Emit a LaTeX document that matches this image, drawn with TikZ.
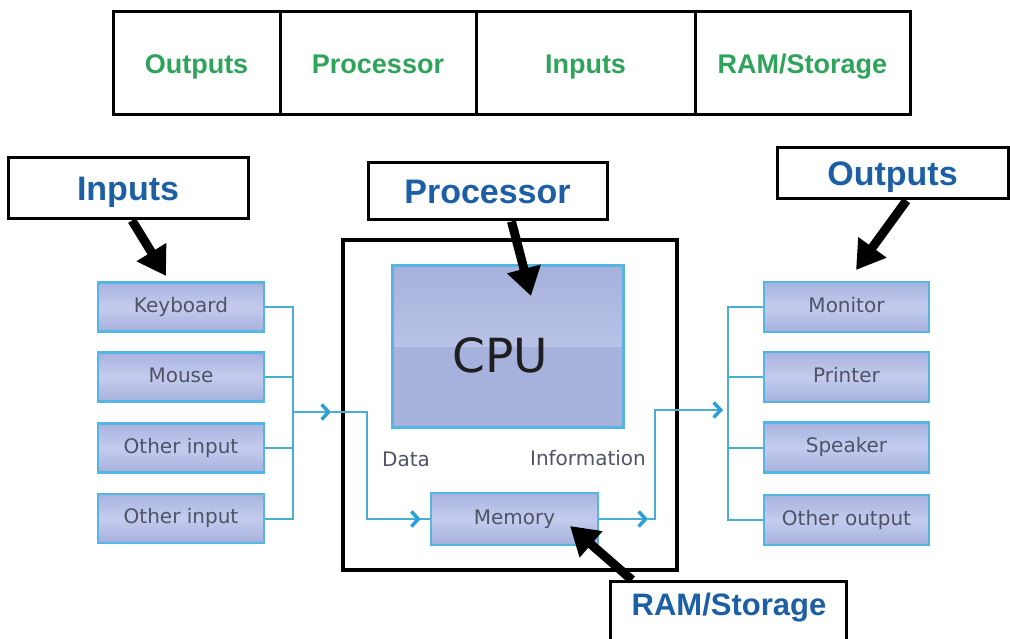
\documentclass[tikz,border=0pt]{standalone}
\usepackage{fontspec}
\usetikzlibrary{arrows.meta,calc}
\newfontfamily\labfont{Liberation Sans}
\newfontfamily\devfont{DejaVu Sans}
\definecolor{boxA}{HTML}{A8B3DE}
\definecolor{boxM}{HTML}{C4CBEE}
\definecolor{boxB}{HTML}{A6B1DC}
\definecolor{cpuLight}{HTML}{CBD2F0}
\definecolor{boxborder}{HTML}{55B6E4}
\definecolor{boxtext}{HTML}{4F5366}
\definecolor{conn}{HTML}{4AAED2}
\definecolor{chev}{HTML}{2A9FD8}
\definecolor{greenT}{HTML}{2EA35A}
\definecolor{blueT}{HTML}{1D5FA5}
\begin{document}
\begin{tikzpicture}[x=1pt,y=-1pt,
  cell/.style={draw=black, line width=3pt, minimum height=103pt, inner sep=0pt,
    text height=19.5pt, text depth=0pt,
    font=\labfont\bfseries\fontsize{27}{30}\selectfont, text=greenT},
  lab/.style={draw=black, line width=3pt, fill=white, inner sep=0pt,
    text height=24pt, text depth=0pt,
    font=\labfont\bfseries\fontsize{34}{38}\selectfont, text=blueT},
  devbox/.style={draw=boxborder, line width=2.5pt, top color=boxA, bottom color=boxB, middle color=boxM,
    minimum width=166pt, minimum height=49pt, inner sep=0pt,
    text height=14.6pt, text depth=4pt,
    font=\devfont\fontsize{20}{24}\selectfont, text=boxtext},
  plain/.style={font=\devfont\fontsize{20}{24}\selectfont, text=boxtext, inner sep=0pt},
  wire/.style={draw=conn, line width=2pt},
  wirearrow/.style={draw=conn, line width=2pt, -{Straight Barb[length=7pt,width=15pt,line width=3.5pt,color=chev]}},
  bigarrow/.style={draw=black, line width=9pt, -{Triangle[length=28pt,width=33pt]}}
]
\useasboundingbox (0,0) rectangle (1010,639);
\clip (0,0) rectangle (1010,639);

% top table
\node[cell, minimum width=167pt] (c1) at (196.5,63.5) {Outputs};
\node[cell, minimum width=196pt] (c2) at (378,63.5) {Processor};
\node[cell, minimum width=219pt] (c3) at (585.5,63.5) {Inputs};
\node[cell, minimum width=215pt] (c4) at (802.5,63.5) {RAM/Storage};

% processor frame
\node[draw=black, line width=4pt, minimum width=334pt, minimum height=330pt, inner sep=0pt] (frame) at (510,405) {};

% CPU
\node[draw=boxborder, line width=3pt, fill=boxB, minimum width=231pt, minimum height=162pt, inner sep=0pt,
  path picture={\shade[top color=boxB, bottom color=cpuLight] (path picture bounding box.north west) rectangle (path picture bounding box.east);}]
  (cpu) at (507.5,346.5) {};
\node[font=\devfont\fontsize{47}{50}\selectfont, text=black!88, inner sep=0pt] (cputext) at (500,355) {CPU};

% memory
\node[devbox, minimum width=167pt, minimum height=52pt] (mem) at (514.5,519) {Memory};
\node[plain] (data) at (406,459) {Data};
\node[plain] (info) at (588,458) {Information};

% input devices
\node[devbox] (kb) at (181,307) {Keyboard};
\node[devbox] (ms) at (181,377) {Mouse};
\node[devbox] (oi1) at (181,448) {Other input};
\node[devbox] (oi2) at (181,518.5) {Other input};

% output devices
\node[devbox, minimum width=165pt, minimum height=50pt] (mon) at (846.5,307) {Monitor};
\node[devbox, minimum width=165pt, minimum height=50pt] (prn) at (846.5,377) {Printer};
\node[devbox, minimum width=165pt, minimum height=50pt] (spk) at (846.5,447.5) {Speaker};
\node[devbox, minimum width=165pt, minimum height=50pt] (oo) at (846.5,520) {Other output};

% input bus
\coordinate (lb1) at (293,307);
\coordinate (lb4) at (293,518.5);
\coordinate (lbm) at (293,412);
\coordinate (la) at (331,412);
\coordinate (lc1) at (367,412);
\coordinate (lc2) at (367,519);
\draw[wire] (kb.east) -- (lb1) -- (lb4) -- (oi2.east);
\draw[wire] (ms.east) -- (ms.east -| lb1);
\draw[wire] (oi1.east) -- (oi1.east -| lb1);
\draw[wirearrow] (lbm) -- (la);
\draw[wire] (la) -- (lc1) -- (lc2) -- ($(mem.west)+(-12,0)$);
\draw[wirearrow] ($(mem.west)+(-18,0)$) -- ($(mem.west)+(-9,0)$);
\draw[wire] ($(mem.west)+(-10,0)$) -- (mem.west);

% output bus
\coordinate (ra) at (648,519);
\coordinate (rc1) at (655,519);
\coordinate (rc2) at (655,410);
\coordinate (rb) at (723,410);
\coordinate (rb1) at (728,307);
\coordinate (rb4) at (728,520);
\draw[wirearrow] (mem.east) -- (ra);
\draw[wire] (ra) -- (rc1) -- (rc2) -- ($(rb)+(-6,0)$);
\draw[wirearrow] ($(rb)+(-12,0)$) -- (rb);
\draw[wire] (mon.west) -- (rb1) -- (rb4) -- (oo.west);
\draw[wire] (prn.west) -- (prn.west -| rb1);
\draw[wire] (spk.west) -- (spk.west -| rb1);

% callout labels
\node[lab, minimum width=240pt, minimum height=61pt] (inlab) at (128,188.5) {Inputs};
\node[lab, minimum width=239pt, minimum height=57pt] (proclab) at (487.5,191.5) {Processor};
\node[lab, minimum width=231pt, minimum height=51pt] (outlab) at (892.5,173.5) {Outputs};
\node[lab, minimum width=236pt, minimum height=64pt, anchor=north] (ramlab) at (728,580) {};
\node[font=\labfont\bfseries\fontsize{31}{34}\selectfont, text=blueT, inner sep=0pt] (ramtext) at (729,608) {RAM/Storage};

% big arrows
\coordinate (inTip) at (166,276);
\coordinate (procTip) at (531,296);
\coordinate (outTip) at (856,270);
\coordinate (ramTip) at (570,526);
\draw[bigarrow] ($(inlab.south)+(4,0)$) -- (inTip);
\draw[bigarrow] ($(proclab.south)+(24,0)$) -- (procTip);
\draw[bigarrow] ($(outlab.south)+(14,0)$) -- (outTip);
\draw[bigarrow] ($(ramlab.north)+(-96,0)$) -- (ramTip);
\end{tikzpicture}
\end{document}
